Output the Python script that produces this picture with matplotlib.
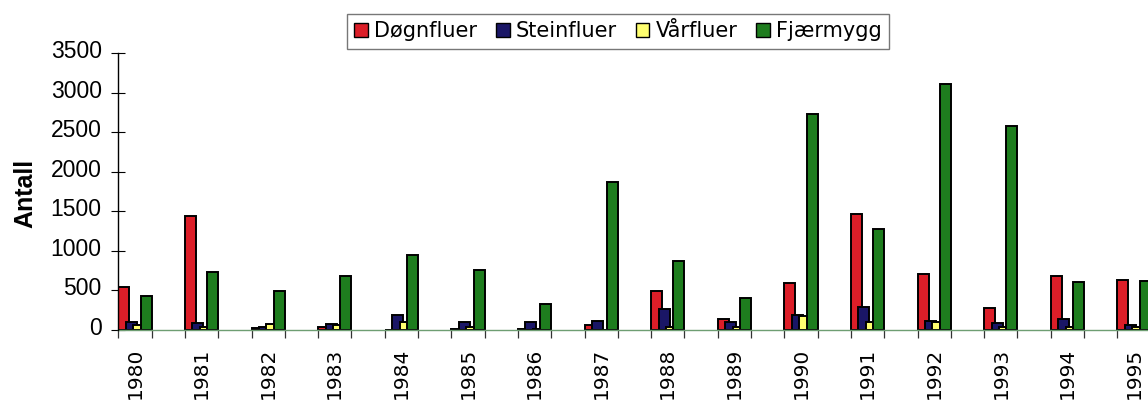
import matplotlib
matplotlib.use("Agg")
import matplotlib.pyplot as plt
import matplotlib.transforms as mtransforms
from matplotlib.patches import Patch
import numpy as np

years = ["1980", "1981", "1982", "1983", "1984", "1985", "1986", "1987",
         "1988", "1989", "1990", "1991", "1992", "1993", "1994", "1995"]
series_names = ["Døgnfluer", "Steinfluer", "Vårfluer", "Fjærmygg"]
dognfluer = [540, 1442, 20, 38, 0, 12, 12, 63, 488, 137, 590, 1463, 708, 274, 679, 628]
steinfluer = [105, 93, 40, 72, 190, 97, 97, 116, 264, 97, 190, 285, 114, 93, 135, 63]
varfluer = [63, 42, 76, 63, 105, 34, 10, 5, 34, 34, 180, 105, 105, 34, 34, 42]
fjaermygg = [430, 738, 493, 687, 945, 763, 333, 1876, 873, 401, 2728, 1273, 3107, 2580, 603, 624]
values = [dognfluer, steinfluer, varfluer, fjaermygg]
colors = ["#dc1e28", "#1a1666", "#ffff70", "#1e7d1e"]

W, H = 1148, 401
fig = plt.figure(figsize=(W / 100, H / 100), dpi=100)
left_px, right_px = 118.3, 1150.7
bot_px, top_px = 330, 53.3
ax = fig.add_axes([left_px / W, 1 - bot_px / H, (right_px - left_px) / W, (bot_px - top_px) / H])

pos = np.arange(len(years)) * 2
bw = 0.33
step = (1 - bw) / 3
for k, (vals, c) in enumerate(zip(values, colors)):
    x = pos - 0.5 + bw / 2 + k * step
    ax.bar(x, vals, width=bw, color=c, edgecolor="black", linewidth=1.4, zorder=2 + k * 0.01)

ax.set_xlim(-0.5, 30.5)
ax.set_ylim(0, 3500)

for s in ["top", "right"]:
    ax.spines[s].set_visible(False)
ax.spines["left"].set_color("black")
ax.spines["left"].set_linewidth(1.0)
ax.spines["left"].set_zorder(5)
ax.spines["bottom"].set_color("#6e9e72")
ax.spines["bottom"].set_linewidth(1.0)

# y axis
ax.set_yticks(np.arange(0, 3501, 500))
ax.set_yticklabels([str(v) for v in range(0, 3501, 500)], fontfamily="Liberation Sans", fontsize=16.5)
ax.tick_params(axis="y", direction="inout", length=10, width=0.8, pad=7, colors="black")
off = mtransforms.ScaledTranslation(0, 4 / 100, fig.dpi_scale_trans)
for lab in ax.get_yticklabels():
    lab.set_transform(lab.get_transform() + off)

# x axis: labels at year centers, ticks at category boundaries
ax.set_xticks(pos)
ax.set_xticklabels(years, rotation=90, fontfamily="DejaVu Sans", fontsize=14.5, va="top", ha="center")
ax.tick_params(axis="x", which="major", length=0, pad=13)
ax.set_xticks(np.arange(-0.5, 31, 1), minor=True)
ax.tick_params(axis="x", which="minor", direction="out", length=6, width=0.9, color="#333333")

fig.text(25 / W, 1 - 193 / H, "Antall", rotation=90, ha="center", va="center",
         fontfamily="Liberation Sans", fontweight="bold", fontsize=18)

handles = [Patch(facecolor=c, edgecolor="black", linewidth=1.0) for c in colors]
leg = fig.legend(handles, series_names, loc="upper center", bbox_to_anchor=(618 / W, 1 - 14 / H),
                 ncol=4, frameon=True, fancybox=False, edgecolor="#555555",
                 prop={"family": "DejaVu Sans", "size": 15}, handlelength=0.65, handleheight=0.65,
                 handletextpad=0.3, columnspacing=0.9, borderpad=0.35, borderaxespad=0)
leg.get_frame().set_linewidth(1.0)

fig.savefig("out.png", dpi=100)
